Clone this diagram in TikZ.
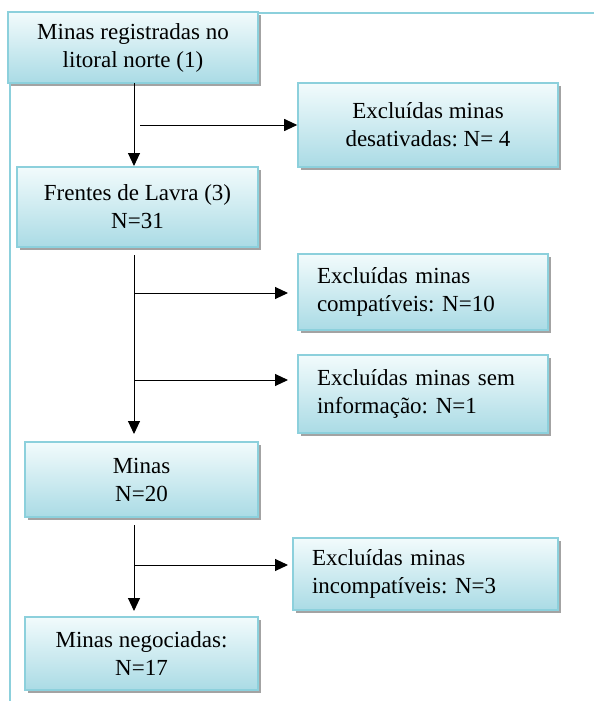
\documentclass[tikz,border=0pt]{standalone}
\usepackage{fontspec}
\setmainfont{Liberation Serif}
\frenchspacing
\usetikzlibrary{arrows.meta,shadows}
\definecolor{bordcol}{HTML}{8CD0DC}
\definecolor{topcol}{HTML}{F2FBFC}
\definecolor{botcol}{HTML}{AADBE5}
\tikzset{
  box/.style={draw=bordcol, line width=1.6pt, top color=topcol, bottom color=botcol,
    drop shadow={shadow xshift=3pt, shadow yshift=-3pt, fill=black!45, opacity=0.8},
    font=\fontsize{23}{28}\selectfont, align=center, inner sep=0pt, text=black},
  lbox/.style={box, align=left, inner xsep=19pt},
  conn/.style={line width=1pt, draw=black, -{Triangle[length=13pt,width=12pt]}},
  frame/.style={draw=bordcol, line width=1.6pt}
}
\begin{document}
\begin{tikzpicture}[x=1pt,y=-1pt]
\useasboundingbox (0,0) rectangle (594,701);
\coordinate (fa) at (10,701);
\coordinate (fb) at (10,13);
\coordinate (fc) at (594,13);
\draw[frame] (fa) -- (fb) -- (fc);

\node[box, minimum width=250pt, minimum height=71pt] (b1) at (133,47.5) {Minas registradas no\\litoral norte (1)};
\node[box, minimum width=260pt, minimum height=84pt] (e1) at (428,125) {Excluídas minas\\desativadas: N= 4};
\node[box, minimum width=241pt, minimum height=80pt] (b2) at (137.5,207) {Frentes de Lavra (3)\\N=31};
\node[lbox, text width=212pt, minimum height=76pt] (e2) at (423,292) {Excluídas minas\\compatíveis: N=10};
\node[lbox, text width=212pt, minimum height=78pt] (e3) at (423,394) {Excluídas minas sem\\informação: N=1};
\node[box, minimum width=233pt, minimum height=75pt] (b3) at (141.5,479.5) {Minas\\N=20};
\node[lbox, text width=227pt, minimum height=72pt] (e4) at (425.5,574) {Excluídas minas\\incompatíveis: N=3};
\node[box, minimum width=233pt, minimum height=73pt] (b4) at (141.5,653.5) {Minas negociadas:\\N=17};

% spine 1
\coordinate (s1a) at (134,83);
\coordinate (s1b) at (134,166);
\draw[conn] (s1a) -- (s1b);
\coordinate (h1a) at (140,125);
\draw[conn] (h1a) -- (e1.west);

% spine 2
\coordinate (s2a) at (134,255);
\coordinate (s2b) at (134,434);
\draw[conn] (s2a) -- (s2b);
\coordinate (h2a) at (134,293);
\coordinate (h2b) at (288,293);
\draw[conn] (h2a) -- (h2b);
\coordinate (h3a) at (134,380);
\coordinate (h3b) at (288,380);
\draw[conn] (h3a) -- (h3b);

% spine 3
\coordinate (s3a) at (134,525);
\coordinate (s3b) at (134,611);
\draw[conn] (s3a) -- (s3b);
\coordinate (h4a) at (134,565);
\coordinate (h4b) at (288,565);
\draw[conn] (h4a) -- (h4b);
\end{tikzpicture}
\end{document}
